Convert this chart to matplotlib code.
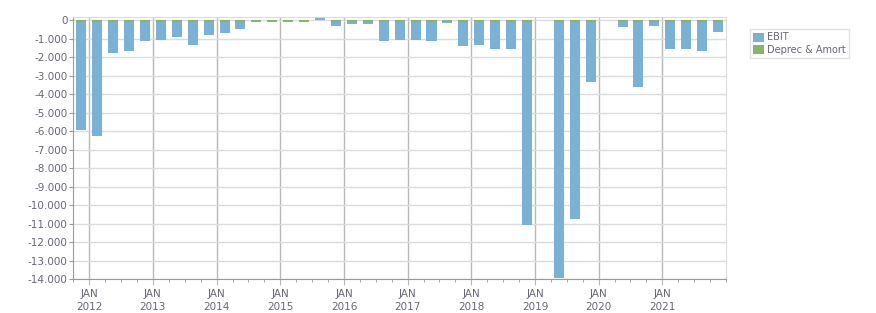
import matplotlib
matplotlib.use("Agg")
import matplotlib.pyplot as plt
import numpy as np
from matplotlib.ticker import FixedLocator, FuncFormatter
from matplotlib.patches import Patch

# Quarterly values (bar i sits half a quarter before quarter i, relative to Jan 2012)
ebit = [-5950, -6250, -1790, -1680, -1090, -1040, -880, -1310, -770, -660,
        -450, -80, -20, -20, -20, 110, -290, -180, -180, -1090,
        -1040, -1040, -1090, -130, -1410, -1360, -1570, -1570, -11050, None,
        -13900, -10720, -3350, None, -340, -3610, -290, -1570, -1570, -1680,
        -610]
deprec = [-70, -70, -70, -70, -70, -70, -70, -70, -70, -70,
          -70, -70, -70, -70, -70, 0, -70, -70, -70, -70,
          -70, -70, -70, -70, -70, -70, -70, -70, -70, None,
          -70, -70, -70, None, -70, -70, -70, -70, -70, -70,
          -70]
years = [2012, 2013, 2014, 2015, 2016, 2017, 2018, 2019, 2020, 2021]
series_names = ["EBIT", "Deprec & Amort"]

blue = "#7ab1d4"
green = "#89b46a"
txt = "#676775"

fig = plt.figure(figsize=(8.76, 3.13), dpi=100)
ax = fig.add_axes([73/876, 1-279.4/313, (726-73)/876, (279.4-17)/313])

x = np.arange(len(ebit)) - 0.5
e = np.array([np.nan if v is None else v for v in ebit], dtype=float)
d = np.array([np.nan if v is None else v for v in deprec], dtype=float)
w = 0.63
ax.bar(x, np.nan_to_num(e), width=w, color=blue, zorder=3)
ax.bar(x, np.nan_to_num(d), width=w, color=green, zorder=4)

ax.set_xlim(-1.02, 40)
ax.set_ylim(-14000, 180)

yt = np.arange(0, -14001, -1000)
ax.yaxis.set_major_locator(FixedLocator(yt))
ax.yaxis.set_major_formatter(FuncFormatter(lambda v, p: f"{int(v):,}".replace(",", ".")))
xt = [(y - 2012) * 4 for y in years]
ax.set_xticks(xt)
ax.set_xticklabels([f"JAN\n{y}" for y in years])
ax.set_xticks(np.arange(-1, 41, 1), minor=True)

ax.grid(axis="y", color="#dcdcdc", linewidth=1, zorder=0)
ax.grid(axis="x", which="major", color="#b8b8b8", linewidth=1, zorder=1)

for s in ["top", "right"]:
    ax.spines[s].set_color("#dcdcdc")
for s in ["left", "bottom"]:
    ax.spines[s].set_color("#9a9a9a")
ax.tick_params(axis="y", length=3, color="#9a9a9a", labelsize=7.5, labelcolor=txt, pad=1)
ax.tick_params(axis="x", which="major", length=4, color="#b8b8b8", labelsize=7.5, labelcolor=txt, pad=3)
ax.tick_params(axis="x", which="minor", length=2.5, color="#9a9a9a")
for lbl in ax.get_xticklabels():
    lbl.set_linespacing(1.35)

handles = [Patch(facecolor=blue, label=series_names[0]), Patch(facecolor=green, label=series_names[1])]
leg = fig.legend(handles=handles, loc="upper left", bbox_to_anchor=(750/876, 1-29/313),
                 frameon=True, fontsize=7, handlelength=1.05, handleheight=1.05,
                 handletextpad=0.3, borderpad=0.35, labelspacing=0.25, fancybox=False,
                 borderaxespad=0)
leg.get_frame().set_edgecolor("#dcdcdc")
leg.get_frame().set_linewidth(1)
for t in leg.get_texts():
    t.set_color(txt)

fig.savefig("out.png", dpi=100)
